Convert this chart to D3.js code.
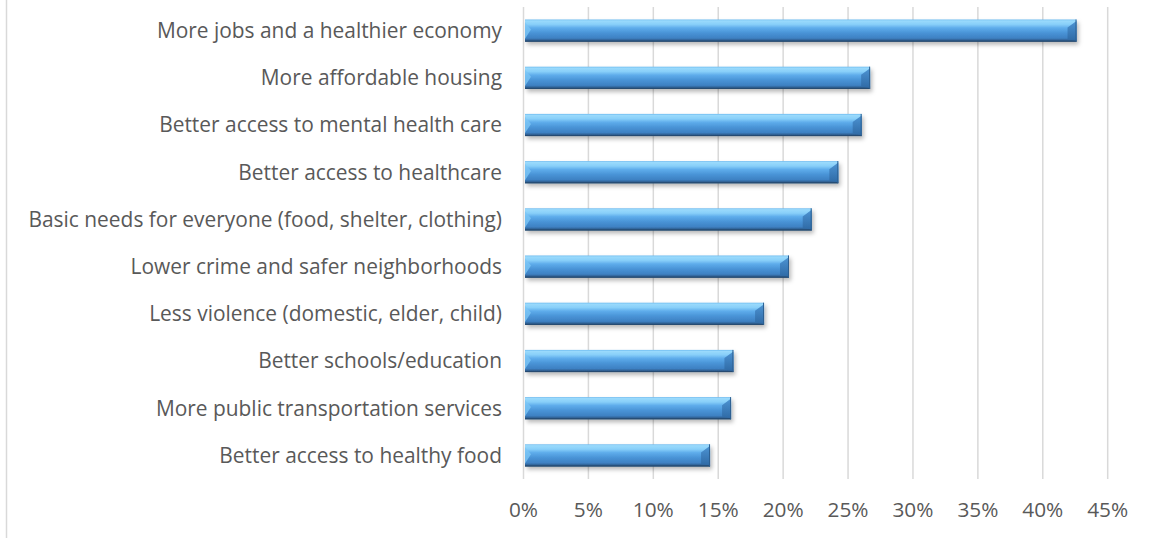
<!DOCTYPE html>
<html><head><meta charset="utf-8">
<script src="https://cdn.jsdelivr.net/npm/d3@7"></script>
<style>html,body{margin:0;padding:0;background:#fff;overflow:hidden}</style>
</head><body>
<script>
const categories = [
  "More jobs and a healthier economy",
  "More affordable housing",
  "Better access to mental health care",
  "Better access to healthcare",
  "Basic needs for everyone (food, shelter, clothing)",
  "Lower crime and safer neighborhoods",
  "Less violence (domestic, elder, child)",
  "Better schools/education",
  "More public transportation services",
  "Better access to healthy food"
];
const values = [0.426, 0.267, 0.2605, 0.2425, 0.222, 0.2045, 0.1853, 0.1617, 0.1599, 0.1437];
const tickValues = [0, 0.05, 0.10, 0.15, 0.20, 0.25, 0.30, 0.35, 0.40, 0.45];

const W = 1152, H = 538;
const FONT = "'Open Sans', sans-serif";
const svg = d3.select("body").append("svg").attr("width", W).attr("height", H);

const defs = svg.append("defs");
const g1 = defs.append("linearGradient").attr("id","barGrad").attr("x1",0).attr("y1",0).attr("x2",0).attr("y2",1);
[[0,"#6ab8ee"],[0.06,"#9adafc"],[0.22,"#88cff9"],[0.38,"#5eaceb"],[0.62,"#4892d5"],[0.84,"#3e81c3"],[0.93,"#2f6194"],[1,"#264a70"]]
  .forEach(([o,c])=>g1.append("stop").attr("offset",o).attr("stop-color",c));
const g2 = defs.append("linearGradient").attr("id","capGrad").attr("x1",0).attr("y1",0).attr("x2",0).attr("y2",1);
[[0,"#4a90d0"],[1,"#2f6aa5"]].forEach(([o,c])=>g2.append("stop").attr("offset",o).attr("stop-color",c));
const f = defs.append("filter").attr("id","shadow").attr("x","-5%").attr("y","-30%").attr("width","110%").attr("height","180%");
f.append("feDropShadow").attr("dx",2).attr("dy",3).attr("stdDeviation",2.2).attr("flood-color","#000").attr("flood-opacity",0.28);

const x = d3.scaleLinear().domain([0, 0.45]).range([523.5, 1107.7]);
const y = d3.scaleBand().domain(categories).range([7, 479]).paddingInner(0.53).paddingOuter(0.265);

// outer border (left edge)
svg.append("line").attr("x1",6.5).attr("x2",6.5).attr("y1",0).attr("y2",H)
  .attr("stroke","#d9d9d9").attr("stroke-width",1.5);

// gridlines
svg.append("g").selectAll("line").data(tickValues).join("line")
  .attr("x1",d=>x(d)).attr("x2",d=>x(d)).attr("y1",7).attr("y2",479)
  .attr("stroke","#d9d9d9").attr("stroke-width",1.5);

// bars
const bars = svg.append("g").selectAll("g").data(categories).join("g");
bars.each(function(c,i){
  const gg = d3.select(this);
  const x0 = x(0)+1.5, x1 = x(values[i]), y0 = y(c), h = y.bandwidth(), y1 = y0+h;
  gg.append("rect").attr("x",x0).attr("y",y0).attr("width",x1-x0).attr("height",h)
    .attr("fill","url(#barGrad)").attr("filter","url(#shadow)");
  const b = 9;
  gg.append("polygon").attr("points",[[x1-b,y1-2.5],[x1-b,y0+b*0.9],[x1,y0+1.5],[x1,y1-1]].map(p=>p.join(",")).join(" "))
    .attr("fill","url(#capGrad)").attr("opacity",0.95);
  gg.append("polygon").attr("points",[[x0,y0+3],[x0+6,y0+h*0.45],[x0,y1-3]].map(p=>p.join(",")).join(" "))
    .attr("fill","#7cc6f5").attr("opacity",0.8);
  gg.append("line").attr("x1",x0).attr("x2",x1).attr("y1",y1-0.5).attr("y2",y1-0.5)
    .attr("stroke","#264a70").attr("stroke-width",1);
  gg.append("line").attr("x1",x1-0.5).attr("x2",x1-0.5).attr("y1",y0).attr("y2",y1)
    .attr("stroke","#2d5f90").attr("stroke-width",1);
});

// category labels
const labels = svg.append("g").selectAll("text").data(categories).join("text")
  .attr("x",502).attr("y",d=>y(d)+y.bandwidth()/2)
  .attr("dy","0.35em").attr("text-anchor","end")
  .attr("font-family",FONT).attr("font-size",18).attr("fill","#595959")
  .text(d=>d);
const basic = labels.filter(d=>d.startsWith("Basic")).node();
const fs = 18*474/basic.getComputedTextLength();
labels.attr("font-size",fs);

// tick labels
const ticks = svg.append("g").selectAll("text").data(tickValues).join("text")
  .attr("x",d=>x(d)).attr("y",510).attr("dy","0.35em").attr("text-anchor","middle")
  .attr("font-family",FONT).attr("font-size",19).attr("fill","#595959")
  .text(d=>d3.format(".0%")(d));
const t45 = ticks.filter(d=>d===0.45).node();
ticks.attr("font-size",19*41/t45.getComputedTextLength());
</script>
</body></html>
